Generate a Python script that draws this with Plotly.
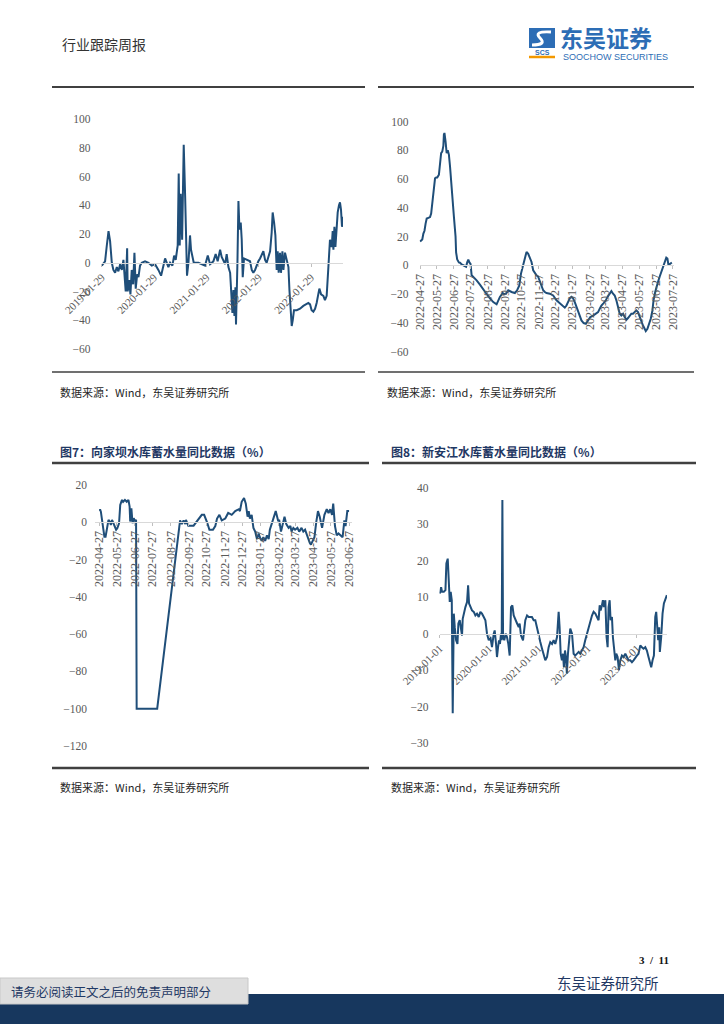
import plotly.graph_objects as go

W, H = 724, 1024
LINE = "#1f4e79"
TICK = "#595959"
SERIF = "Liberation Serif, Times New Roman, serif"
CJK = "Noto Sans CJK SC, sans-serif"
NAVY = "#1f3864"

# ---------------- Chart 1 (upper left) ----------------
dates1 = [
    "2019-01-29", "2019-02-10", "2019-02-21", "2019-03-05", "2019-03-17", "2019-03-28", "2019-04-09", "2019-04-20", "2019-05-02", "2019-05-14",
    "2019-05-25", "2019-06-06", "2019-06-18", "2019-06-29", "2019-07-06", "2019-07-15", "2019-07-25", "2019-07-29", "2019-08-08", "2019-08-17",
    "2019-08-26", "2019-09-05", "2019-09-14", "2019-09-23", "2019-10-03", "2019-10-12", "2019-10-23", "2019-11-04", "2019-11-27", "2019-12-21",
    "2020-01-13", "2020-02-05", "2020-02-28", "2020-03-18", "2020-04-15", "2020-05-08", "2020-05-20", "2020-06-05", "2020-06-17", "2020-06-28",
    "2020-07-12", "2020-07-19", "2020-07-26", "2020-08-02", "2020-08-12", "2020-08-16", "2020-08-23", "2020-09-02", "2020-09-08", "2020-09-15",
    "2020-09-25", "2020-10-06", "2020-10-13", "2020-10-23", "2020-11-01", "2020-12-04", "2020-12-27", "2021-01-19", "2021-02-07", "2021-02-23",
    "2021-03-18", "2021-04-03", "2021-04-17", "2021-05-04", "2021-05-15", "2021-05-27", "2021-06-08", "2021-06-19", "2021-07-01", "2021-07-13",
    "2021-07-19", "2021-07-29", "2021-08-05", "2021-08-12", "2021-08-19", "2021-08-23", "2021-09-02", "2021-09-09", "2021-09-16", "2021-09-25",
    "2021-10-02", "2021-10-09", "2021-10-18", "2021-11-06", "2021-11-29", "2021-12-11", "2021-12-22", "2022-01-03", "2022-01-15", "2022-01-26",
    "2022-02-07", "2022-02-18", "2022-03-02", "2022-03-14", "2022-03-25", "2022-04-06", "2022-04-18", "2022-04-29", "2022-05-06", "2022-05-16",
    "2022-05-25", "2022-06-03", "2022-06-10", "2022-06-17", "2022-06-26", "2022-07-03", "2022-07-13", "2022-07-20", "2022-07-31", "2022-08-12",
    "2022-08-24", "2022-08-31", "2022-09-09", "2022-09-16", "2022-09-23", "2022-10-02", "2022-10-21", "2022-11-13", "2022-12-06", "2022-12-30",
    "2023-01-10", "2023-01-22", "2023-02-02", "2023-02-14", "2023-02-26", "2023-03-09", "2023-03-21", "2023-03-28", "2023-04-09", "2023-04-25",
    "2023-05-06", "2023-05-18", "2023-05-30", "2023-06-10", "2023-06-22", "2023-06-29", "2023-07-04", "2023-07-11", "2023-07-18", "2023-07-27",
    "2023-08-03", "2023-08-12", "2023-08-19", "2023-08-26", "2023-09-02", "2023-09-07",
]
vals1 = [
    -2, 0, 1, 12, 22, 15, 0, -5, -7, -3,
    -6, -1, -5, 2, -8, -20, 10, -20, -12, -22,
    -5, -15, 7, -18, -8, -10, -2, 0, 1, 0,
    -2, -1, -5, -9, 3, -3, 0, -2, 5, 2,
    12, 62, 12, 48, 16, 35, 82, 46, 23, -9,
    0, 19, 9, 5, 0, 0, -1, -2, 5, -1,
    1, 6, 1, 9, 4, 1, -1, 6, -3, -7,
    -19, -35, -19, -37, -17, -43, 0, 43, 23, 28,
    16, -10, 3, 2, 1, -5, -7, -5, -1, 1,
    3, 6, 8, 2, 0, 4, 8, 21, 35, 28,
    19, -5, 8, -7, 7, -7, 8, -5, 7, 2,
    -3, -19, -35, -44, -40, -33, -33, -32, -30, -29,
    -28, -29, -33, -34, -32, -28, -23, -18, -22, -23,
    -26, -23, -3, 16, 11, 22, 9, 25, 11, 23,
    35, 40, 42, 37, 25, 32,
]
ticks1 = ["2019-01-29", "2020-01-29", "2021-01-29", "2022-01-29", "2023-01-29"]

# ---------------- Chart 2 (upper right) ----------------
dates2 = [
    "2022-04-27", "2022-04-29", "2022-05-01", "2022-05-03", "2022-05-05", "2022-05-07", "2022-05-09", "2022-05-12", "2022-05-15", "2022-05-17",
    "2022-05-19", "2022-05-21", "2022-05-23", "2022-05-24", "2022-05-26", "2022-05-28", "2022-05-31", "2022-06-02", "2022-06-04", "2022-06-06",
    "2022-06-08", "2022-06-09", "2022-06-10", "2022-06-12", "2022-06-14", "2022-06-16", "2022-06-18", "2022-06-20", "2022-06-22", "2022-06-25",
    "2022-06-27", "2022-06-30", "2022-07-01", "2022-07-03", "2022-07-06", "2022-07-08", "2022-07-11", "2022-07-14", "2022-07-17", "2022-07-19",
    "2022-07-21", "2022-07-23", "2022-07-25", "2022-07-27", "2022-07-29", "2022-08-01", "2022-08-07", "2022-08-13", "2022-08-19", "2022-08-25",
    "2022-08-31", "2022-09-06", "2022-09-12", "2022-09-15", "2022-09-18", "2022-09-23", "2022-09-25", "2022-09-29", "2022-10-03", "2022-10-09",
    "2022-10-15", "2022-10-19", "2022-10-23", "2022-10-26", "2022-10-30", "2022-11-02", "2022-11-05", "2022-11-08", "2022-11-11", "2022-11-14",
    "2022-11-17", "2022-11-20", "2022-11-23", "2022-11-26", "2022-11-29", "2022-12-02", "2022-12-05", "2022-12-08", "2022-12-11", "2022-12-17",
    "2022-12-23", "2022-12-29", "2023-01-04", "2023-01-10", "2023-01-13", "2023-01-16", "2023-01-19", "2023-01-22", "2023-01-25", "2023-01-28",
    "2023-01-31", "2023-02-03", "2023-02-06", "2023-02-09", "2023-02-12", "2023-02-16", "2023-02-20", "2023-02-24", "2023-02-28", "2023-03-05",
    "2023-03-10", "2023-03-14", "2023-03-17", "2023-03-20", "2023-03-24", "2023-03-28", "2023-03-31", "2023-04-04", "2023-04-07", "2023-04-10",
    "2023-04-13", "2023-04-16", "2023-04-19", "2023-04-22", "2023-04-25", "2023-04-28", "2023-05-01", "2023-05-04", "2023-05-07", "2023-05-10",
    "2023-05-13", "2023-05-16", "2023-05-19", "2023-05-22", "2023-05-25", "2023-05-28", "2023-05-31", "2023-06-03", "2023-06-06", "2023-06-08",
    "2023-06-11", "2023-06-14", "2023-06-17", "2023-06-20", "2023-06-22", "2023-06-25", "2023-06-27", "2023-06-30", "2023-07-03", "2023-07-06",
    "2023-07-09", "2023-07-12", "2023-07-15", "2023-07-17", "2023-07-19", "2023-07-21", "2023-07-23", "2023-07-25",
]
vals2 = [
    16.5, 17.4, 18, 22, 24, 29, 32.5, 33, 33.5, 36,
    42, 48, 55, 60.5, 61, 61, 63, 69, 78, 79,
    83, 91, 92, 86, 78, 80, 77, 69, 57, 43,
    34, 20, 9, 4, 2, 1.8, 0.5, 0, -1, -1,
    2, 4, 2, 1, -7, -8, -10.5, -13.5, -17, -20,
    -23, -25.6, -27.2, -24.4, -22, -19.3, -20, -19.8, -17.4, -18.6,
    -19.3, -17.4, -14, -5.8, 0, 5.8, 9.3, 8, 4.7, 2.3,
    -3.5, -5.8, -7, -8, -11.6, -15, -17.4, -18.6, -19.3, -19.8,
    -21, -24.4, -26.7, -29, -29.5, -28, -25.6, -23, -22, -23,
    -25.6, -29, -32.6, -36, -38.4, -40.2, -40.7, -38.4, -36, -35,
    -33.7, -32.6, -30.2, -28, -26.3, -24.4, -22, -19.8, -18, -19.8,
    -21, -24.4, -29, -33.7, -35, -33.7, -36, -38, -36.7, -35,
    -33.7, -33.7, -32.6, -31.4, -32.6, -36, -39.5, -41.9, -44.2, -45.8,
    -44.2, -40.7, -37.2, -31.4, -24.4, -18.6, -15, -11.6, -8, -4.7,
    -1.2, 2.3, 5.3, 4.7, 0, 0.7, 1.6, 1.9,
]
ticks2 = ["2022-04-27", "2022-05-27", "2022-06-27", "2022-07-27", "2022-08-27", "2022-09-27", "2022-10-27", "2022-11-27",
          "2022-12-27", "2023-01-27", "2023-02-27", "2023-03-27", "2023-04-27", "2023-05-27", "2023-06-27", "2023-07-27"]

# ---------------- Chart 3 (图7 向家坝) ----------------
dates3 = [
    "2022-04-27", "2022-04-29", "2022-04-30", "2022-05-03", "2022-05-04", "2022-05-06", "2022-05-08", "2022-05-10", "2022-05-13", "2022-05-15",
    "2022-05-17", "2022-05-19", "2022-05-21", "2022-05-24", "2022-05-26", "2022-05-28", "2022-05-31", "2022-06-02", "2022-06-05", "2022-06-07",
    "2022-06-10", "2022-06-13", "2022-06-16", "2022-06-18", "2022-06-19", "2022-06-21", "2022-06-23", "2022-06-25", "2022-06-27", "2022-06-29",
    "2022-06-30", "2022-08-04", "2022-09-12", "2022-09-15", "2022-09-18", "2022-09-21", "2022-09-22", "2022-09-26", "2022-10-05", "2022-10-19",
    "2022-10-23", "2022-10-28", "2022-11-01", "2022-11-07", "2022-11-11", "2022-11-14", "2022-11-18", "2022-11-22", "2022-11-28", "2022-12-03",
    "2022-12-09", "2022-12-15", "2022-12-21", "2022-12-23", "2022-12-26", "2022-12-30", "2023-01-02", "2023-01-05", "2023-01-07", "2023-01-09",
    "2023-01-12", "2023-01-15", "2023-01-18", "2023-01-21", "2023-01-24", "2023-01-26", "2023-01-29", "2023-02-01", "2023-02-04", "2023-02-07",
    "2023-02-10", "2023-02-12", "2023-02-17", "2023-02-22", "2023-02-26", "2023-02-28", "2023-03-03", "2023-03-09", "2023-03-12", "2023-03-16",
    "2023-03-19", "2023-03-21", "2023-03-24", "2023-03-27", "2023-03-31", "2023-04-03", "2023-04-07", "2023-04-10", "2023-04-13", "2023-04-17",
    "2023-04-21", "2023-04-23", "2023-04-26", "2023-04-29", "2023-05-02", "2023-05-05", "2023-05-08", "2023-05-12", "2023-05-16", "2023-05-20",
    "2023-05-23", "2023-05-26", "2023-05-29", "2023-05-31", "2023-06-03", "2023-06-06", "2023-06-09", "2023-06-12", "2023-06-16", "2023-06-19",
    "2023-06-21", "2023-06-24", "2023-06-27",
]
vals3 = [
    6.6, 6.6, 5.7, -0.5, -4, -7.7, -7.7, -4, 1.3, 0.4,
    -1.4, 1.3, -0.2, -2.3, -4, -3.2, -0.5, 9.3, 12, 11,
    12, 11, 12, 8.4, 0.4, 7.5, -0.5, 2.2, 0.4, 1.3,
    -100, -100, 1, -1, 1, -1, 1.3, -1.8, -1.8, 4,
    4, 0, -4, -4, -2, 2, 4, 1, 2, 5,
    4, 6, 7, 6, 11, 13, 10, 3, 6, 2,
    4, -3, -5, -9, -6, -8, -10, -8, -10, -7,
    -9, -4, 1, 6, 1, 1, -5, 3, -1, -3,
    -2, -5, -3, -4, -3, -5, -3, -5, -4, -8,
    -11, -12, -10, -8, 0, 6, 3, -3, 4, 7,
    5, 7, 4, 10, -2, -7, -6, -7, -8, 1,
    -2, 6, 6,
]
ticks3 = ["2022-04-27", "2022-05-27", "2022-06-27", "2022-07-27", "2022-08-27", "2022-09-27", "2022-10-27", "2022-11-27",
          "2022-12-27", "2023-01-27", "2023-02-27", "2023-03-27", "2023-04-27", "2023-05-27", "2023-06-27"]

# ---------------- Chart 4 (图8 新安江) ----------------
dates4 = [
    "2019-01-01", "2019-01-11", "2019-01-18", "2019-01-31", "2019-02-12", "2019-02-19", "2019-03-01", "2019-03-09", "2019-03-16", "2019-03-23",
    "2019-03-31", "2019-04-07", "2019-04-15", "2019-04-22", "2019-05-02", "2019-05-12", "2019-05-19", "2019-05-29", "2019-06-08", "2019-06-15",
    "2019-06-20", "2019-06-28", "2019-07-10", "2019-07-22", "2019-07-30", "2019-08-06", "2019-08-16", "2019-08-28", "2019-09-10", "2019-09-22",
    "2019-10-04", "2019-10-17", "2019-10-29", "2019-11-10", "2019-11-23", "2019-12-05", "2019-12-17", "2019-12-30", "2020-01-11", "2020-01-23",
    "2020-02-05", "2020-02-12", "2020-02-22", "2020-02-29", "2020-03-08", "2020-03-15", "2020-03-22", "2020-03-30", "2020-04-04", "2020-04-09",
    "2020-04-14", "2020-04-23", "2020-05-03", "2020-05-13", "2020-05-23", "2020-06-02", "2020-06-12", "2020-06-22", "2020-07-02", "2020-07-14",
    "2020-07-27", "2020-08-08", "2020-08-15", "2020-08-25", "2020-09-09", "2020-09-26", "2020-10-09", "2020-10-21", "2020-11-02", "2020-11-14",
    "2020-11-27", "2020-12-09", "2020-12-21", "2021-01-03", "2021-01-15", "2021-01-28", "2021-02-09", "2021-02-21", "2021-03-06", "2021-03-18",
    "2021-03-30", "2021-04-12", "2021-04-24", "2021-05-06", "2021-05-19", "2021-05-26", "2021-05-31", "2021-06-07", "2021-06-15", "2021-06-24",
    "2021-07-02", "2021-07-09", "2021-07-17", "2021-07-24", "2021-07-31", "2021-08-08", "2021-08-18", "2021-08-25", "2021-09-07", "2021-09-19",
    "2021-10-01", "2021-10-14", "2021-10-26", "2021-11-07", "2021-11-20", "2021-12-02", "2021-12-14", "2021-12-27", "2022-01-08", "2022-01-21",
    "2022-02-02", "2022-02-14", "2022-02-27", "2022-03-11", "2022-03-23", "2022-03-31", "2022-04-07", "2022-04-17", "2022-04-24", "2022-05-02",
    "2022-05-12", "2022-05-21", "2022-05-29", "2022-06-05", "2022-06-13", "2022-06-20", "2022-06-30", "2022-07-07", "2022-07-17", "2022-07-25",
    "2022-08-01", "2022-08-11", "2022-08-21", "2022-08-31", "2022-09-12", "2022-09-24", "2022-10-07", "2022-10-19", "2022-10-31", "2022-11-13",
    "2022-11-25", "2022-12-07", "2022-12-20", "2023-01-01", "2023-01-13", "2023-01-26", "2023-02-07", "2023-02-19", "2023-03-04", "2023-03-16",
    "2023-03-28", "2023-04-10", "2023-04-17", "2023-04-27", "2023-05-07", "2023-05-17", "2023-05-24", "2023-06-01", "2023-06-08", "2023-06-15",
    "2023-06-20", "2023-06-30", "2023-07-10", "2023-07-20", "2023-07-30", "2023-08-11",
]
vals4 = [
    11, 12.8, 11.5, 11.5, 12, 19.3, 20.6, 15.6, 8.7, 11.5,
    9.2, -21.8, 5.5, 1.8, -1.8, -2.8, 2.8, 3.7, 1.8, -0.5,
    4.1, 5.5, 7.3, 8.7, 13.3, 8.3, 7.3, 6.4, 6, 5,
    5.5, 4.6, 6, 5.5, 4.6, 3.7, 0, -1.8, -0.9, -3.7,
    0, 0.9, -2.8, -6.4, -3.7, -1.8, -2.8, 0, -1.8, 36.7,
    -0.9, -1.8, 0, -0.9, -2.8, -6, 7.3, 7.8, 5, 3.7,
    2.8, 1.8, 2.8, -0.5, -1.8, 3.7, 5, 4.6, 4.6, 4.6,
    3.7, 3.7, 1.8, -0.9, -2.3, -4.1, -6, -7.3, -6.4, -3.7,
    -2.3, -2.8, -1.8, -2.8, -0.9, 2.8, 6, 1.8, -5.5, -7.3,
    -5.5, -9.2, -4.6, -6.4, -11, -5.5, 0, 1.4, 0, -5.5,
    -6, -5.5, -5, -5.5, -4.6, -3.7, -1.8, 0, 1.4, 3.7,
    5, 6, 5.5, 4.6, 3.7, 7.8, 6.4, 7.8, 9.2, 7.3,
    9.2, -0.9, -3.7, 7.3, 9.2, 3.7, 4.6, -0.9, -5.5, -7.3,
    -5.5, -6.4, -10, -7.3, -6, -6.4, -5.5, -6.4, -7.3, -7.3,
    -7.8, -7.3, -6.4, -6, -5.5, -3.2, -3.7, -4.1, -3.7, -4.6,
    -6.4, -8.7, -9.2, -7.3, -6, 4.6, 6, 1.8, -1.8, 1.8,
    -5, -0.9, 5.5, 8.3, 9.6, 10.6,
]
ticks4 = ["2019-01-01", "2020-01-01", "2021-01-01", "2022-01-01", "2023-01-01"]

# ---------------- layout helpers ----------------
def fx(x):
    return x / W


def fy(y):
    return 1 - y / H


charts = [
    dict(d=dates1, v=vals1, t=ticks1, xr=["2019-01-27", "2023-09-09"], yr=[-60, 100], dt=20,
         xl=101.5, xrp=343, yt=119, yb=349, ang=-45, so=10, xf=11),
    dict(d=dates2, v=vals2, t=ticks2, xr=["2022-04-26", "2023-07-28"], yr=[-60, 100], dt=20,
         xl=419.5, xrp=673.5, yt=121.5, yb=351.5, ang=-90, so=10, xf=12),
    dict(d=dates3, v=vals3, t=ticks3, xr=["2022-04-20", "2023-07-02"], yr=[-120, 20], dt=20,
         xl=95, xrp=352, yt=485, yb=746, ang=-90, so=7, xf=12),
    dict(d=dates4, v=vals4, t=ticks4, xr=["2018-12-30", "2023-08-12"], yr=[-30, 40], dt=10,
         xl=439.5, xrp=667, yt=488, yb=743, ang=-45, so=10, xf=11),
]

fig = go.Figure()
layout = dict(width=W, height=H, autosize=False, margin=dict(l=0, r=0, t=0, b=0, pad=0, autoexpand=False),
              paper_bgcolor="white", plot_bgcolor="rgba(0,0,0,0)", showlegend=False)

for i, c in enumerate(charts, start=1):
    sx = "" if i == 1 else str(i)
    fig.add_trace(go.Scatter(x=c["d"], y=c["v"], mode="lines",
                             line=dict(color=LINE, width=2),
                             xaxis="x" + sx, yaxis="y" + sx, hoverinfo="skip"))
    ymin, ymax = c["yr"]
    y_zero_px = c["yt"] + (ymax - 0) / (ymax - ymin) * (c["yb"] - c["yt"])
    layout["xaxis" + sx] = dict(
        type="date", domain=[fx(c["xl"]), fx(c["xrp"])], range=c["xr"],
        anchor="free", position=fy(y_zero_px), automargin=False,
        showline=True, linecolor="#d9d9d9", linewidth=1,
        showgrid=False, zeroline=False,
        ticks="outside", ticklen=3, tickcolor="#bfbfbf",
        tickvals=c["t"], ticktext=c["t"], tickangle=c["ang"],
        tickfont=dict(family=SERIF, size=c["xf"], color=TICK),
    )
    layout["yaxis" + sx] = dict(
        domain=[fy(c["yb"]), fy(c["yt"])], range=c["yr"], dtick=c["dt"], tick0=0,
        anchor="x" + sx, automargin=False, showline=False, showgrid=False, zeroline=False,
        ticks="", ticklabelstandoff=c["so"],
        tickfont=dict(family=SERIF, size=11.5, color=TICK),
    )

fig.update_layout(**layout)

# ---------------- page decorations ----------------
shapes = []


def hline(x0, x1, y, color="#404040", width=2):
    shapes.append(dict(type="line", xref="paper", yref="paper", x0=fx(x0), x1=fx(x1),
                       y0=fy(y), y1=fy(y), line=dict(color=color, width=width)))


def rect(x0, x1, y0, y1, fill, line_color=None):
    shapes.append(dict(type="rect", xref="paper", yref="paper", x0=fx(x0), x1=fx(x1),
                       y0=fy(y1), y1=fy(y0), fillcolor=fill,
                       line=dict(width=1 if line_color else 0, color=line_color or fill), layer="above"))


hline(52, 365, 87)
hline(378, 694, 87)
hline(52, 365, 372, width=1.5)
hline(378, 694, 372, width=1.5)
hline(52, 369, 463, width=2.5)
hline(382, 696, 463, width=2.5)
hline(52, 369, 768, width=2.5)
hline(382, 696, 768, width=2.5)

# footer band
rect(0, 724, 994, 1024, "#17375e")
rect(0, 248, 978, 1004, "#dedede", "#c8c8c8")

# logo icon
rect(529, 555, 28, 48, "#2d6db5")
shapes.append(dict(type="path", xref="paper", yref="paper",
                   path="M %f %f Q %f %f %f %f Q %f %f %f %f" % (
                       fx(551), fy(32), fx(533), fy(31), fx(540), fy(38),
                       fx(547), fy(45), fx(532), fy(45)),
                   line=dict(color="white", width=3)))
hline(529, 555, 57, color="#f39800", width=2.5)

fig.update_layout(shapes=shapes)

ann = []


def text(x, y, s, size, color, family=CJK, anchor="left", bold=False):
    if bold:
        s = "<b>" + s + "</b>"
    ann.append(dict(x=fx(x), y=fy(y), xref="paper", yref="paper", text=s, showarrow=False,
                    xanchor=anchor, yanchor="middle",
                    font=dict(size=size, color=color, family=family)))


text(60, 44, "行业跟踪周报", 14, "#333333")
text(558, 37, "东吴证券", 23, "#2d6db5", bold=True)
text(561, 57, "SOOCHOW SECURITIES", 9, "#2d6db5", family="Liberation Sans, Arial")
text(542, 52, "SCS", 7, "#2d6db5", family="Liberation Sans, Arial", anchor="center", bold=True)

text(58, 392, "数据来源：Wind，东吴证券研究所", 11, "#262626")
text(385, 392, "数据来源：Wind，东吴证券研究所", 11, "#262626")
text(58, 451, "图7：向家坝水库蓄水量同比数据（%）", 12, NAVY, bold=True)
text(389, 451, "图8：新安江水库蓄水量同比数据（%）", 12, NAVY, bold=True)
text(58, 787, "数据来源：Wind，东吴证券研究所", 11, "#262626")
text(389, 787, "数据来源：Wind，东吴证券研究所", 11, "#262626")

text(671, 960, "3  /  11", 11, "#111111", family=SERIF, anchor="right", bold=True)
text(661, 982, "东吴证券研究所", 14.5, NAVY, anchor="right")
text(9, 991, "请务必阅读正文之后的免责声明部分", 12.5, NAVY)

fig.update_layout(annotations=ann)

fig.write_html("out.html", config={"displayModeBar": False},
               post_script="document.body.style.margin='0';document.body.style.overflow='hidden';")
